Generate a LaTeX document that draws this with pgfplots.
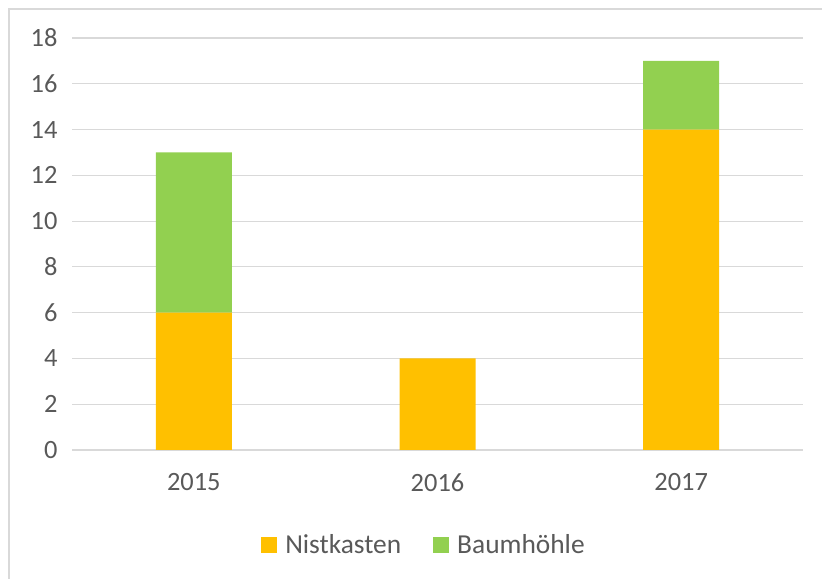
\documentclass[border=0pt]{standalone}
\usepackage{pgfplots}
\pgfplotsset{compat=1.18}
\usepackage{fontspec}
\setmainfont{Carlito}
\definecolor{nist}{HTML}{FFC000}
\definecolor{baum}{HTML}{92D050}
\definecolor{txt}{HTML}{595959}
\definecolor{gridc}{HTML}{D9D9D9}
\begin{document}
\begin{tikzpicture}
\useasboundingbox (0,0) rectangle (822bp,579bp);
\draw[gridc, line width=2bp] (9bp,0) -- (9bp,570bp) -- (822bp,570bp);
\begin{axis}[
 at={(72bp,129bp)}, anchor=south west,
 scale only axis, width=731bp, height=412bp,
 ybar stacked, bar width=76bp,
 xmin=-0.5, xmax=2.5, ymin=0, ymax=18,
 xtick=data, xticklabels={2015,2016,2017},
 ytick={0,2,...,18},
 ymajorgrids, grid style={gridc, line width=1.2bp},
 axis line style={draw=none},
 major tick length=0pt,
 tick label style={font=\fontsize{26.5}{30}\selectfont, text=txt},
 /pgf/number format/assume math mode=true,
 xticklabel style={yshift=-20bp},
 yticklabel style={xshift=-11bp},
 legend columns=2,
 legend style={at={(0.4815,-0.2306)}, anchor=center, draw=none, fill=none, font=\fontsize{27.5}{30}\selectfont, text=txt, /tikz/every even column/.append style={column sep=30bp}},
 legend image code/.code={\draw[#1,draw=none] (0bp,-8bp) rectangle (16bp,8bp); \path (22bp,0bp);},
]
\addplot[fill=nist, draw=none] coordinates {(0,6) (1,4) (2,14)};
\addplot[fill=baum, draw=none] coordinates {(0,7) (1,0) (2,3)};
\legend{Nistkasten, Baumhöhle}
\end{axis}
\end{tikzpicture}
\end{document}
